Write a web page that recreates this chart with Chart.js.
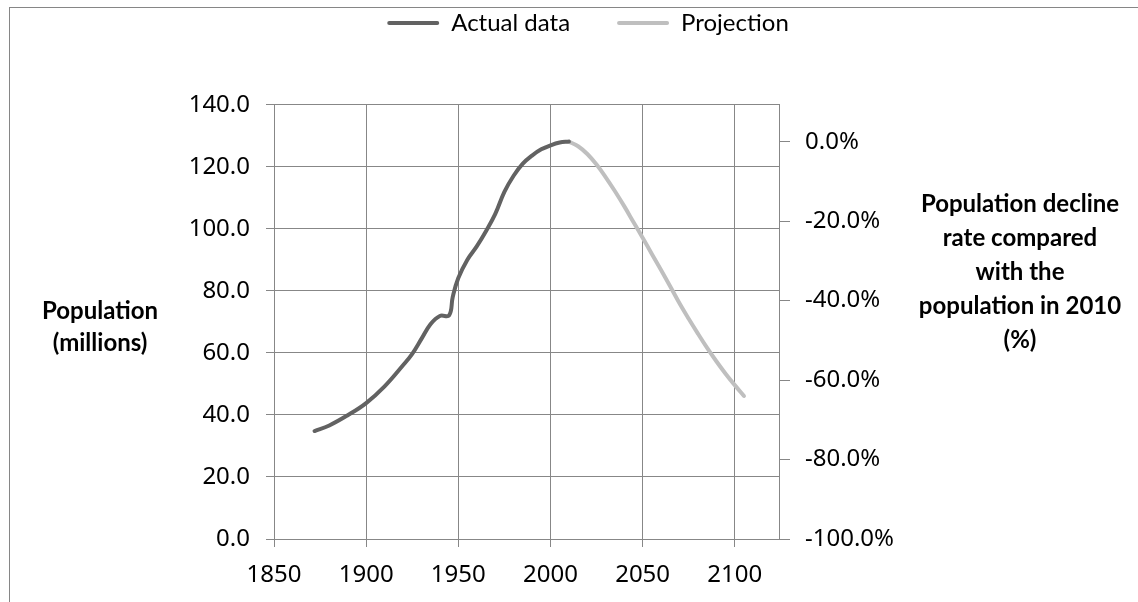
<!DOCTYPE html>
<html>
<head>
<meta charset="utf-8">
<title>Population</title>
<script src="https://cdn.jsdelivr.net/npm/chart.js@4.4.1/dist/chart.umd.min.js"></script>
<style>
  html, body { margin: 0; padding: 0; background: #fff; }
  #wrap { position: relative; width: 1138px; height: 602px; overflow: hidden; }
  #frame { position: absolute; left: 9px; top: 7px; width: 1300px; height: 800px; border: 1px solid #868686; }
  #chart { position: absolute; left: 0; top: 0; }
  .axis-title {
    position: absolute;
    font-family: Lato, 'Noto Sans', sans-serif;
    font-weight: bold;
    font-size: 24px;
    line-height: 32px;
    text-align: center;
    color: #000;
  }
  #leftTitle { left: 20px; width: 160px; top: 294px; }
  #rightTitle { left: 904px; width: 232px; top: 186px; line-height: 34px; }
</style>
</head>
<body>
<div id="wrap">
  <div id="frame"></div>
  <canvas id="chart" width="1138" height="602"></canvas>
  <div id="leftTitle" class="axis-title">Population<br>(millions)</div>
  <div id="rightTitle" class="axis-title">Population decline<br>rate compared<br>with the<br>population in 2010<br>(%)</div>
</div>
<script>
/* ============================================================
   Japan population: actual data and projection
   ============================================================ */

// --- data (millions) ---
const actualYears = [1872, 1880, 1890, 1900, 1910, 1920, 1925, 1930, 1935, 1940, 1945, 1947, 1950,
  1955, 1960, 1965, 1970, 1975, 1980, 1985, 1990, 1995, 2000, 2005, 2010];
const actualPop = [34.8, 36.6, 39.9, 43.8, 49.2, 56.0, 59.7, 64.5, 69.3, 71.9, 72.1, 78.1, 84.1,
  90.1, 94.3, 99.2, 104.7, 111.9, 117.1, 121.0, 123.6, 125.6, 126.9, 127.8, 128.1];

const projYears = [2010, 2015, 2020, 2025, 2030, 2035, 2040, 2045, 2050, 2055, 2060,
  2065, 2070, 2075, 2080, 2085, 2090, 2095, 2100, 2105];
const projPop = [128.1, 126.6, 124.1, 120.7, 116.6, 112.1, 107.3, 102.2, 97.1, 91.9, 86.7,
  81.4, 76.0, 71.0, 66.2, 61.6, 57.3, 53.3, 49.6, 46.1];

// --- axes ---
const yearTicks = [1850, 1900, 1950, 2000, 2050, 2100];
const popTicks = [0, 20, 40, 60, 80, 100, 120, 140];
const rateTicks = [0, -20, -40, -60, -80, -100];
const basePop = 128.06; // 2010, the 0.0% line of the right axis

const darkGray = '#626262';
const lightGray = '#bfbfbf';
const gridColor = '#878787';
const tickFont = { family: "'Noto Sans', sans-serif", size: 24 };

function toPoints(xs, ys) {
  return xs.map((x, i) => ({ x: x, y: ys[i] }));
}

new Chart(document.getElementById('chart'), {
  type: 'line',
  data: {
    datasets: [
      {
        label: 'Actual data',
        data: toPoints(actualYears, actualPop),
        borderColor: darkGray,
        backgroundColor: darkGray,
        borderWidth: 4,
        borderCapStyle: 'round',
        pointRadius: 0,
        tension: 0.4
      },
      {
        label: 'Projection',
        data: toPoints(projYears, projPop),
        borderColor: lightGray,
        backgroundColor: lightGray,
        borderWidth: 4,
        borderCapStyle: 'round',
        pointRadius: 0,
        tension: 0.4
      }
    ]
  },
  options: {
    responsive: false,
    animation: false,
    devicePixelRatio: 1,
    layout: { padding: { top: -36, right: 0, bottom: 0, left: 38 } },
    plugins: {
      tooltip: { enabled: false },
      legend: {
        position: 'top',
        labels: {
          color: '#000',
          font: { family: "Lato, 'Noto Sans', sans-serif", size: 24 },
          boxWidth: 52,
          boxHeight: 4,
          padding: 47,
          generateLabels: (chart) =>
            Chart.defaults.plugins.legend.labels.generateLabels(chart).map((l) =>
              Object.assign(l, { lineWidth: 0, fillStyle: l.strokeStyle, borderRadius: 2 }))
        }
      },
      // empty block that keeps the gap between legend and plot
      title: {
        display: true,
        text: ' ',
        weight: 500,
        font: { size: 12 },
        padding: { top: 0, bottom: 45.3 }
      }
    },
    scales: {
      x: {
        type: 'linear',
        position: 'bottom',
        min: 1850,
        max: 2124,
        afterBuildTicks: (scale) => { scale.ticks = yearTicks.map((v) => ({ value: v })); },
        afterFit: (scale) => { scale.height = 63; },
        grid: { color: gridColor, tickLength: 8, tickColor: gridColor },
        border: { color: gridColor },
        ticks: { color: '#000', font: tickFont, padding: 14, maxRotation: 0, callback: (v) => String(v) }
      },
      y: {
        position: 'left',
        min: 0,
        max: 140,
        afterBuildTicks: (scale) => { scale.ticks = popTicks.map((v) => ({ value: v })); },
        afterFit: (scale) => { scale.width = 274 - 38; },
        grid: { color: gridColor, tickLength: 8, tickColor: gridColor },
        border: { color: gridColor },
        ticks: { color: '#000', font: tickFont, padding: 16, callback: (v) => v.toFixed(1) }
      },
      y2: {
        position: 'right',
        min: -100,
        max: (140 / basePop - 1) * 100,
        afterBuildTicks: (scale) => { scale.ticks = rateTicks.map((v) => ({ value: v })); },
        afterFit: (scale) => { scale.width = 1138 - 779; },
        grid: { drawOnChartArea: false, tickLength: 11, tickColor: gridColor },
        border: { color: gridColor },
        ticks: { color: '#000', font: tickFont, padding: 15, callback: (v) => v.toFixed(1) + '%' }
      }
    }
  }
});
</script>
</body>
</html>
